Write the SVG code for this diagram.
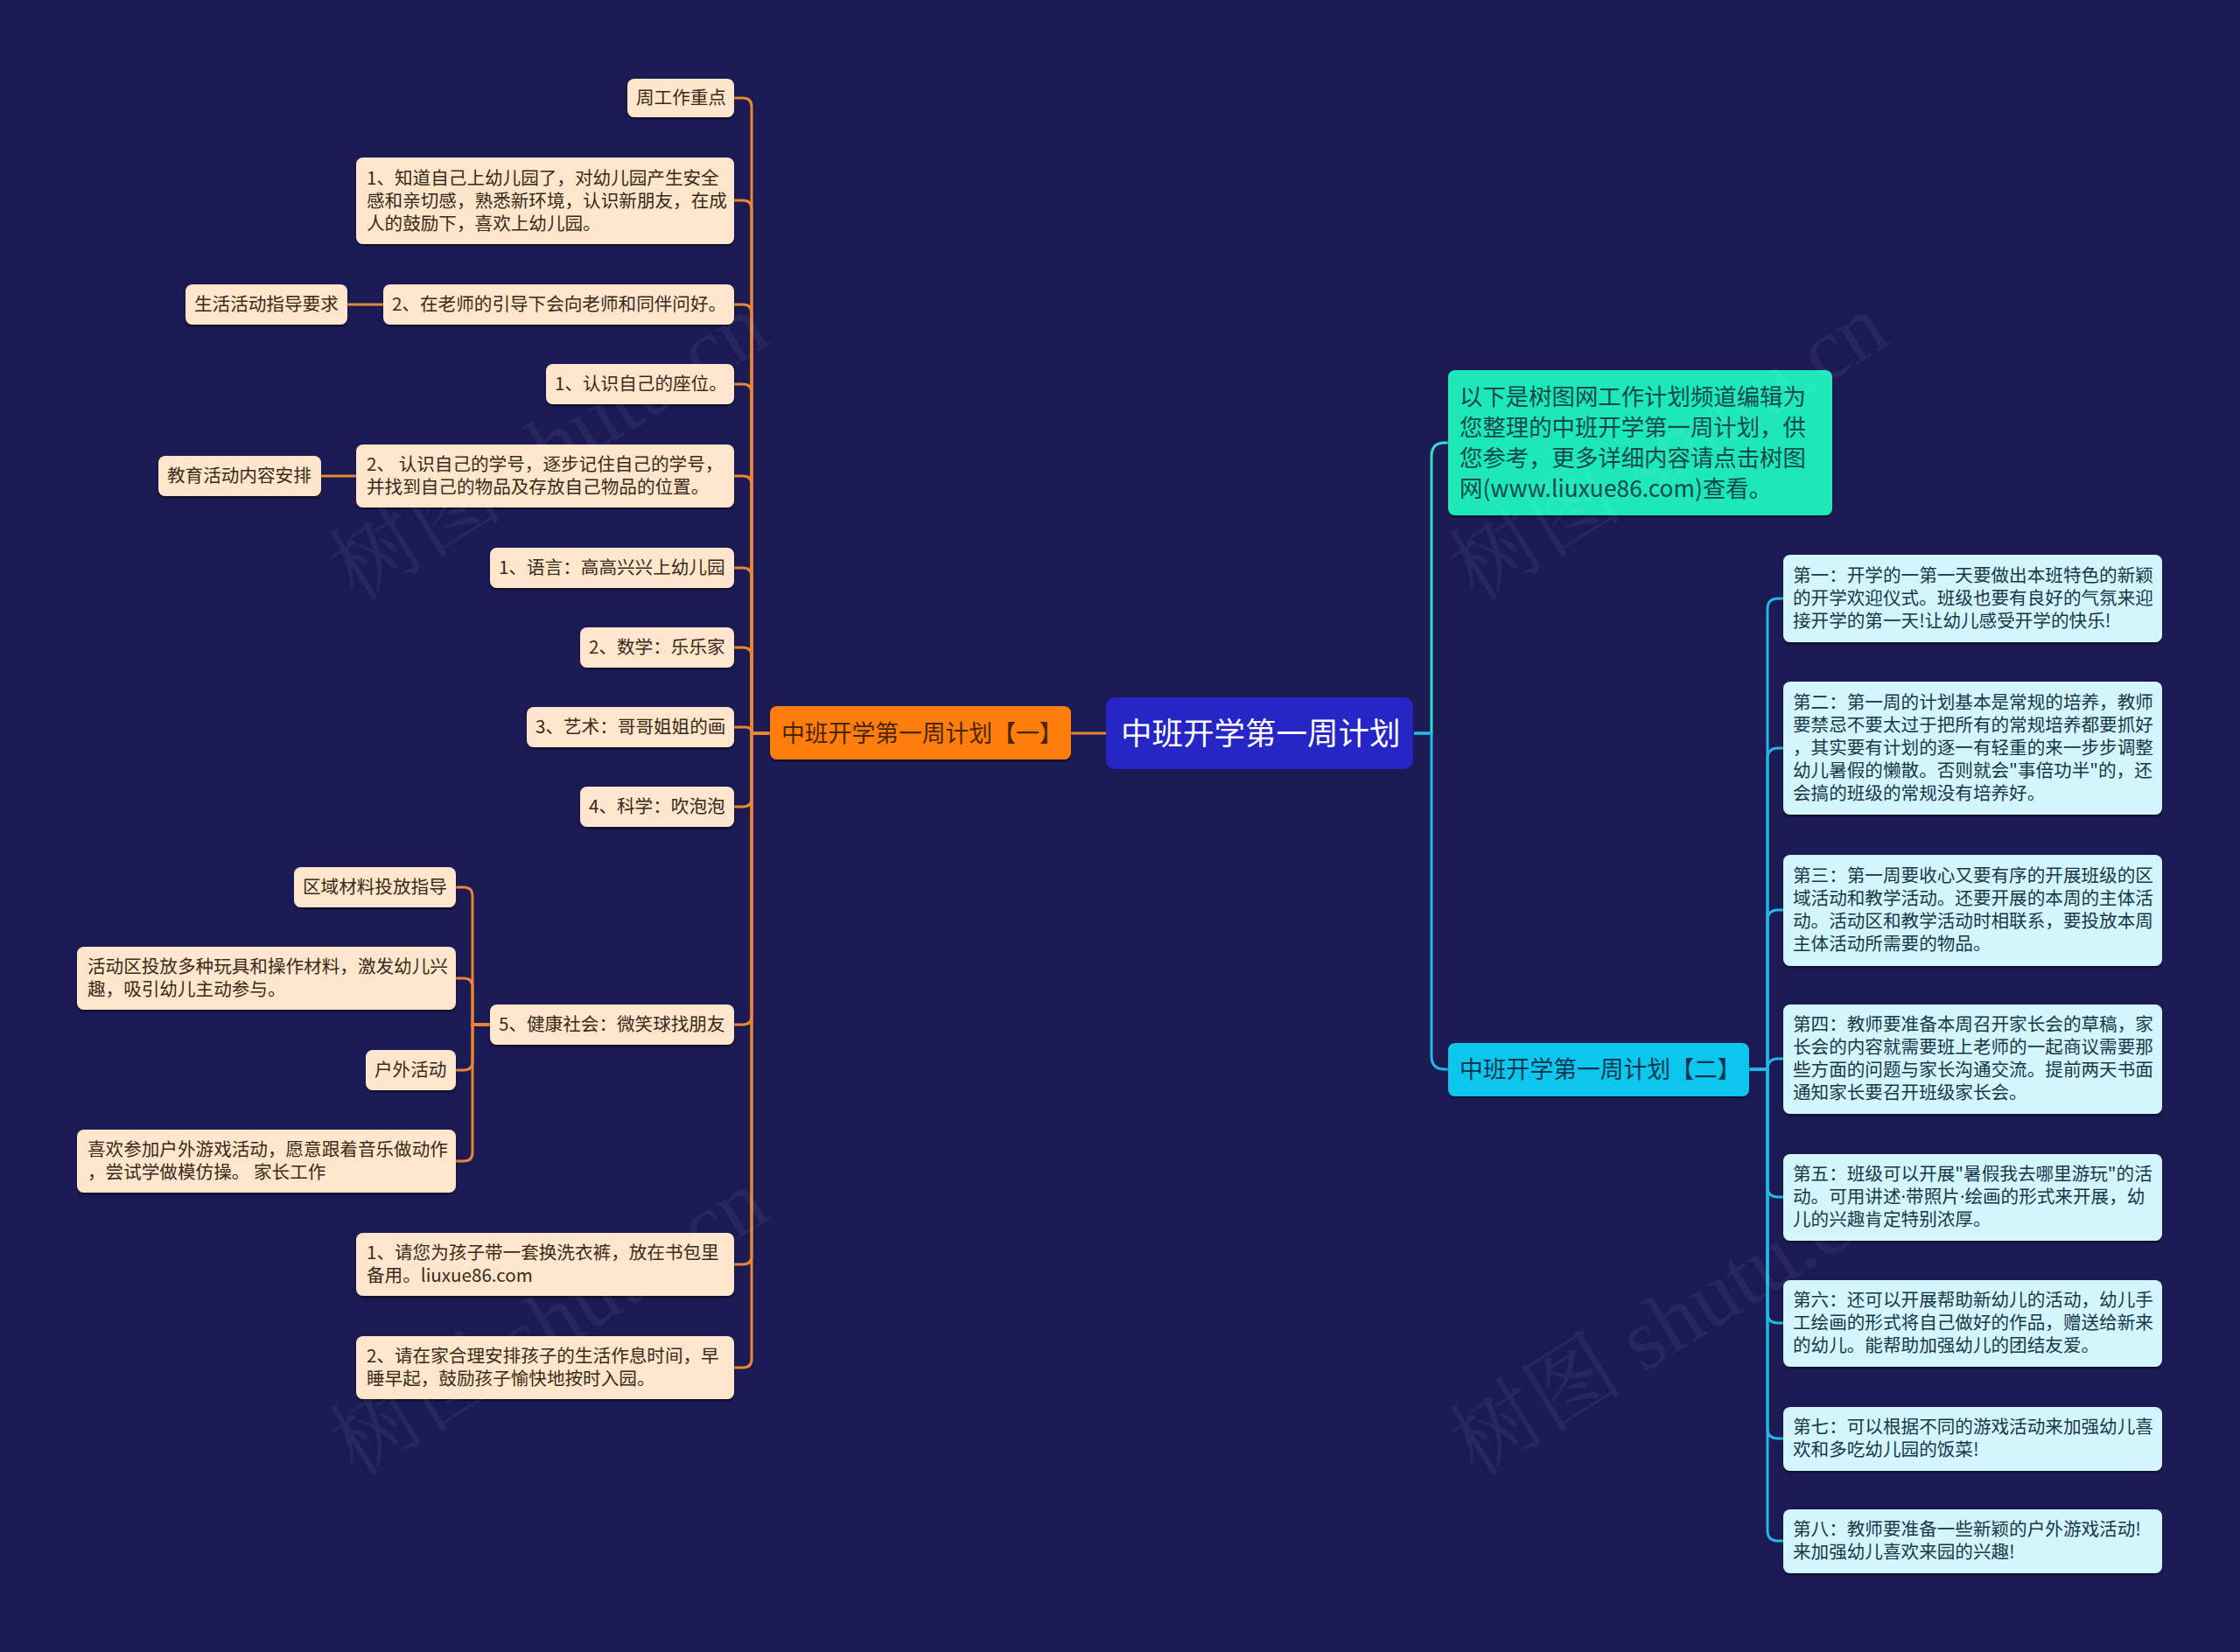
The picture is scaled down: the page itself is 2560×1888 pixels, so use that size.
<svg xmlns="http://www.w3.org/2000/svg" width="2560" height="1888" viewBox="0 0 2560 1888">
<defs>
<filter id="sh" x="-5%" y="-10%" width="110%" height="130%">
<feDropShadow dx="0" dy="2" stdDeviation="1" flood-color="#000" flood-opacity="0.55"/>
</filter>
<style>
text{font-family:"Noto Sans CJK SC","Noto Sans",sans-serif;}
.ln{fill:#fde6cb;}
.lt{font-size:20.6px;fill:#3a2a1a;}
.rn{fill:#d3f5fc;}
.rt{font-size:20.6px;fill:#18384a;}
.dot{font-family:"Noto Sans",sans-serif;}
.co{fill:none;stroke:#ea8530;stroke-width:3;}
.cb{fill:none;stroke:#22b8e8;stroke-width:3;}
.ct{fill:none;stroke:#2ee0c4;stroke-width:3;}
.wm{font-family:"Liberation Serif","Noto Serif CJK SC","Noto Sans CJK SC",serif;font-size:100px;fill:#ffffff;opacity:0.05;}
</style>
</defs>
<rect x="0" y="0" width="2560" height="1888" fill="#1b1a54"/>

<g id="connectors">
<path class="co" d="M1264 838 H1224"/>
<path class="co" d="M880 838 H859 V122 Q859 112 849 112 H839"/>
<path class="co" d="M880 838 H859 V239 Q859 229 849 229 H839"/>
<path class="co" d="M880 838 H859 V358 Q859 348 849 348 H839"/>
<path class="co" d="M880 838 H859 V449 Q859 439 849 439 H839"/>
<path class="co" d="M880 838 H859 V554 Q859 544 849 544 H839"/>
<path class="co" d="M880 838 H859 V659 Q859 649 849 649 H839"/>
<path class="co" d="M880 838 H859 V750 Q859 740 849 740 H839"/>
<path class="co" d="M880 838 H859 Q859 831 852 831 H839"/>
<path class="co" d="M880 838 H859 V912 Q859 922 849 922 H839"/>
<path class="co" d="M880 838 H859 V1161 Q859 1171 849 1171 H839"/>
<path class="co" d="M880 838 H859 V1435 Q859 1445 849 1445 H839"/>
<path class="co" d="M880 838 H859 V1553 Q859 1563 849 1563 H839"/>
<path class="co" d="M438 348 H397"/>
<path class="co" d="M407 544 H367"/>
<path class="co" d="M560 1171 H540 V1024 Q540 1014 530 1014 H521"/>
<path class="co" d="M560 1171 H540 V1128 Q540 1118 530 1118 H521"/>
<path class="co" d="M560 1171 H540 V1213 Q540 1223 530 1223 H521"/>
<path class="co" d="M560 1171 H540 V1317 Q540 1327 530 1327 H521"/>
<path class="ct" d="M1616 838 H1636 V521 Q1636 506 1651 506 H1655"/>
<path class="cb" d="M1616 838 H1636 V1207 Q1636 1222 1651 1222 H1655"/>
<path class="cb" d="M1999 1222 H2020 V696 Q2020 684 2032 684 H2038"/>
<path class="cb" d="M1999 1222 H2020 V867 Q2020 855 2032 855 H2038"/>
<path class="cb" d="M1999 1222 H2020 V1052 Q2020 1040 2032 1040 H2038"/>
<path class="cb" d="M1999 1222 H2020 Q2020 1210 2032 1210 H2038"/>
<path class="cb" d="M1999 1222 H2020 V1356 Q2020 1368 2032 1368 H2038"/>
<path class="cb" d="M1999 1222 H2020 V1500 Q2020 1512 2032 1512 H2038"/>
<path class="cb" d="M1999 1222 H2020 V1632 Q2020 1644 2032 1644 H2038"/>
<path class="cb" d="M1999 1222 H2020 V1749 Q2020 1761 2032 1761 H2038"/>
</g>

<g id="root"><rect x="1264" y="797" width="351" height="82" rx="10" fill="#2626c6"/><text x="1281" y="851" font-size="35.5" fill="#ffffff">中班开学第一周计划</text></g>
<g id="branch1"><rect x="880" y="807" width="344" height="61" rx="8" fill="#ff7d0a" filter="url(#sh)"/><text x="893" y="848" font-size="26.8" fill="#4a2608">中班开学第一周计划【一】</text></g>
<g id="branch2"><rect x="1655" y="1192" width="344" height="61" rx="8" fill="#08c6ee" filter="url(#sh)"/><text x="1668" y="1232" font-size="26.8" fill="#0c3550">中班开学第一周计划【二】</text></g>
<g id="intro"><rect x="1655" y="423" width="439" height="166" rx="8" fill="#1ee8b8" filter="url(#sh)"/><text font-size="26.4" fill="#14484a"><tspan x="1668" y="463">以下是树图网工作计划频道编辑为</tspan><tspan x="1668" y="498">您整理的中班开学第一周计划，供</tspan><tspan x="1668" y="533">您参考，更多详细内容请点击树图</tspan><tspan x="1668" y="568">网(www.liuxue86.com)查看。</tspan></text></g>

<g id="n1"><rect class="ln" x="717" y="90" width="122" height="44" rx="8" filter="url(#sh)"/><text class="lt" x="727" y="119">周工作重点</text></g>
<g id="n2"><rect class="ln" x="407" y="180" width="432" height="99" rx="8" filter="url(#sh)"/><text class="lt"><tspan x="419" y="211">1、知道自己上幼儿园了，对幼儿园产生安全</tspan><tspan x="419" y="237">感和亲切感，熟悉新环境，认识新朋友，在成</tspan><tspan x="419" y="263">人的鼓励下，喜欢上幼儿园。</tspan></text></g>
<g id="n3"><rect class="ln" x="438" y="325" width="401" height="46" rx="8" filter="url(#sh)"/><text class="lt" x="448" y="355">2、在老师的引导下会向老师和同伴问好。</text></g>
<g id="n3c"><rect class="ln" x="212" y="325" width="185" height="46" rx="8" filter="url(#sh)"/><text class="lt" x="222" y="355">生活活动指导要求</text></g>
<g id="n4"><rect class="ln" x="624" y="416" width="215" height="46" rx="8" filter="url(#sh)"/><text class="lt" x="634" y="446">1、认识自己的座位。</text></g>
<g id="n5"><rect class="ln" x="407" y="508" width="432" height="72" rx="8" filter="url(#sh)"/><text class="lt"><tspan x="419" y="538">2、 认识自己的学号，逐步记住自己的学号，</tspan><tspan x="419" y="564">并找到自己的物品及存放自己物品的位置。</tspan></text></g>
<g id="n5c"><rect class="ln" x="181" y="521" width="186" height="46" rx="8" filter="url(#sh)"/><text class="lt" x="191" y="551">教育活动内容安排</text></g>
<g id="n6"><rect class="ln" x="560" y="626" width="279" height="46" rx="8" filter="url(#sh)"/><text class="lt" x="570" y="656">1、语言：高高兴兴上幼儿园</text></g>
<g id="n7"><rect class="ln" x="663" y="717" width="176" height="46" rx="8" filter="url(#sh)"/><text class="lt" x="673" y="747">2、数学：乐乐家</text></g>
<g id="n8"><rect class="ln" x="602" y="808" width="237" height="46" rx="8" filter="url(#sh)"/><text class="lt" x="612" y="838">3、艺术：哥哥姐姐的画</text></g>
<g id="n9"><rect class="ln" x="663" y="899" width="176" height="46" rx="8" filter="url(#sh)"/><text class="lt" x="673" y="929">4、科学：吹泡泡</text></g>
<g id="n10"><rect class="ln" x="560" y="1148" width="279" height="46" rx="8" filter="url(#sh)"/><text class="lt" x="570" y="1178">5、健康社会：微笑球找朋友</text></g>
<g id="n10a"><rect class="ln" x="336" y="991" width="185" height="46" rx="8" filter="url(#sh)"/><text class="lt" x="346" y="1021">区域材料投放指导</text></g>
<g id="n10b"><rect class="ln" x="88" y="1082" width="433" height="72" rx="8" filter="url(#sh)"/><text class="lt"><tspan x="100" y="1112">活动区投放多种玩具和操作材料，激发幼儿兴</tspan><tspan x="100" y="1138">趣，吸引幼儿主动参与。</tspan></text></g>
<g id="n10c"><rect class="ln" x="418" y="1200" width="103" height="46" rx="8" filter="url(#sh)"/><text class="lt" x="428" y="1230">户外活动</text></g>
<g id="n10d"><rect class="ln" x="88" y="1291" width="433" height="72" rx="8" filter="url(#sh)"/><text class="lt"><tspan x="100" y="1321">喜欢参加户外游戏活动，愿意跟着音乐做动作</tspan><tspan x="100" y="1347">，尝试学做模仿操。 家长工作</tspan></text></g>
<g id="n11"><rect class="ln" x="407" y="1409" width="432" height="72" rx="8" filter="url(#sh)"/><text class="lt"><tspan x="419" y="1439">1、请您为孩子带一套换洗衣裤，放在书包里</tspan><tspan x="419" y="1465">备用。liuxue86.com</tspan></text></g>
<g id="n12"><rect class="ln" x="407" y="1527" width="432" height="72" rx="8" filter="url(#sh)"/><text class="lt"><tspan x="419" y="1557">2、请在家合理安排孩子的生活作息时间，早</tspan><tspan x="419" y="1583">睡早起，鼓励孩子愉快地按时入园。</tspan></text></g>

<g id="r1"><rect class="rn" x="2038" y="634" width="433" height="100" rx="8" filter="url(#sh)"/><text class="rt"><tspan x="2049" y="665">第一：开学的一第一天要做出本班特色的新颖</tspan><tspan x="2049" y="691">的开学欢迎仪式。班级也要有良好的气氛来迎</tspan><tspan x="2049" y="717">接开学的第一天!让幼儿感受开学的快乐!</tspan></text></g>
<g id="r2"><rect class="rn" x="2038" y="779" width="433" height="152" rx="8" filter="url(#sh)"/><text class="rt"><tspan x="2049" y="810">第二：第一周的计划基本是常规的培养，教师</tspan><tspan x="2049" y="836">要禁忌不要太过于把所有的常规培养都要抓好</tspan><tspan x="2049" y="862">，其实要有计划的逐一有轻重的来一步步调整</tspan><tspan x="2049" y="888">幼儿暑假的懒散。否则就会"事倍功半"的，还</tspan><tspan x="2049" y="914">会搞的班级的常规没有培养好。</tspan></text></g>
<g id="r3"><rect class="rn" x="2038" y="977" width="433" height="127" rx="8" filter="url(#sh)"/><text class="rt"><tspan x="2049" y="1008">第三：第一周要收心又要有序的开展班级的区</tspan><tspan x="2049" y="1034">域活动和教学活动。还要开展的本周的主体活</tspan><tspan x="2049" y="1060">动。活动区和教学活动时相联系，要投放本周</tspan><tspan x="2049" y="1086">主体活动所需要的物品。</tspan></text></g>
<g id="r4"><rect class="rn" x="2038" y="1148" width="433" height="125" rx="8" filter="url(#sh)"/><text class="rt"><tspan x="2049" y="1178">第四：教师要准备本周召开家长会的草稿，家</tspan><tspan x="2049" y="1204">长会的内容就需要班上老师的一起商议需要那</tspan><tspan x="2049" y="1230">些方面的问题与家长沟通交流。提前两天书面</tspan><tspan x="2049" y="1256">通知家长要召开班级家长会。</tspan></text></g>
<g id="r5"><rect class="rn" x="2038" y="1319" width="433" height="99" rx="8" filter="url(#sh)"/><text class="rt"><tspan x="2049" y="1349">第五：班级可以开展"暑假我去哪里游玩"的活</tspan><tspan x="2049" y="1375">动。可用讲述<tspan class="dot">·</tspan>带照片<tspan class="dot">·</tspan>绘画的形式来开展，幼</tspan><tspan x="2049" y="1401">儿的兴趣肯定特别浓厚。</tspan></text></g>
<g id="r6"><rect class="rn" x="2038" y="1463" width="433" height="99" rx="8" filter="url(#sh)"/><text class="rt"><tspan x="2049" y="1493">第六：还可以开展帮助新幼儿的活动，幼儿手</tspan><tspan x="2049" y="1519">工绘画的形式将自己做好的作品，赠送给新来</tspan><tspan x="2049" y="1545">的幼儿。能帮助加强幼儿的团结友爱。</tspan></text></g>
<g id="r7"><rect class="rn" x="2038" y="1608" width="433" height="73" rx="8" filter="url(#sh)"/><text class="rt"><tspan x="2049" y="1638">第七：可以根据不同的游戏活动来加强幼儿喜</tspan><tspan x="2049" y="1664">欢和多吃幼儿园的饭菜!</tspan></text></g>
<g id="r8"><rect class="rn" x="2038" y="1725" width="433" height="73" rx="8" filter="url(#sh)"/><text class="rt"><tspan x="2049" y="1755">第八：教师要准备一些新颖的户外游戏活动!</tspan><tspan x="2049" y="1781">来加强幼儿喜欢来园的兴趣!</tspan></text></g>

<g id="watermarks">
<text class="wm" x="645" y="540" text-anchor="middle" transform="rotate(-32 645 540)">树图 shutu.cn</text>
<text class="wm" x="645" y="1540" text-anchor="middle" transform="rotate(-32 645 1540)">树图 shutu.cn</text>
<text class="wm" x="1925" y="540" text-anchor="middle" transform="rotate(-32 1925 540)">树图 shutu.cn</text>
<text class="wm" x="1925" y="1540" text-anchor="middle" transform="rotate(-32 1925 1540)">树图 shutu.cn</text>
</g>
</svg>
